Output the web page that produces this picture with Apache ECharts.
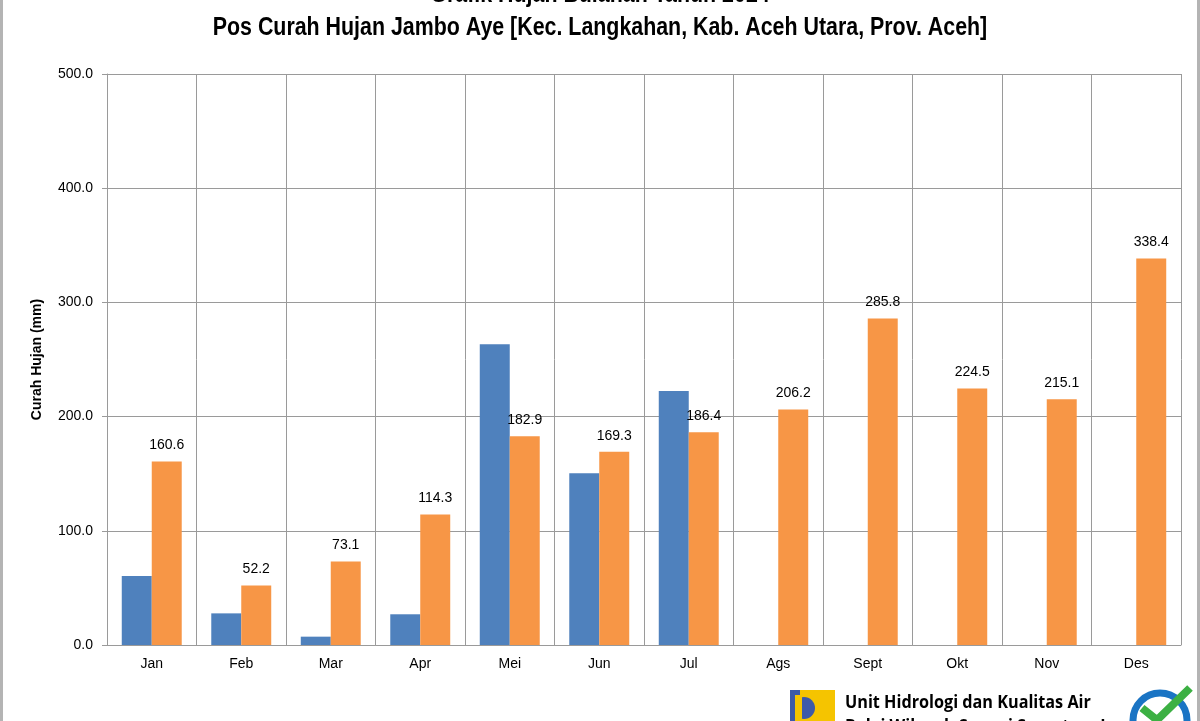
<!DOCTYPE html>
<html><head><meta charset="utf-8">
<script src="https://cdn.jsdelivr.net/npm/echarts@6/dist/echarts.min.js"></script>
<style>html,body{margin:0;padding:0;background:#fff}#c{width:1200px;height:721px}</style>
</head><body><div id="c"></div>
<script>
const categories = ['Jan','Feb','Mar','Apr','Mei','Jun','Jul','Ags','Sept','Okt','Nov','Des'];
const seriesBlue = [60.4, 27.7, 7.3, 26.9, 263.3, 150.3, 222.4, null, null, null, null, null];
const seriesOrange = [160.6, 52.2, 73.1, 114.3, 182.9, 169.3, 186.4, 206.2, 285.8, 224.5, 215.1, 338.4];
const yTicks = {min: 0, max: 500, interval: 100};
const titleLines = ['Grafik Hujan Bulanan Tahun 2024', 'Pos Curah Hujan Jambo Aye [Kec. Langkahan, Kab. Aceh Utara, Prov. Aceh]'];
const yAxisName = 'Curah Hujan (mm)';
const footerLines = ['Unit Hidrologi dan Kualitas Air', 'Balai Wilayah Sungai Sumatera I'];

const sans = '"Liberation Sans", Arial, sans-serif';
const chart = echarts.init(document.getElementById('c'));
chart.setOption({
  animation: false,
  backgroundColor: '#fff',
  grid: {left: 107, right: 19, top: 74, bottom: 76, containLabel: false},
  xAxis: {
    type: 'category', data: categories,
    axisLine: {lineStyle: {color: '#9a9a9a', width: 1}},
    axisTick: {show: false},
    splitLine: {show: true, interval: 0, lineStyle: {color: '#9a9a9a', width: 1}},
    axisLabel: {color: '#000', fontSize: 14, fontFamily: sans, margin: 12}
  },
  yAxis: {
    type: 'value', min: yTicks.min, max: yTicks.max, interval: yTicks.interval,
    name: yAxisName, nameLocation: 'middle', nameGap: 63, nameRotate: 90,
    nameTextStyle: {color: '#000', fontSize: 14, fontWeight: 'bold', fontFamily: sans},
    axisLine: {show: true, lineStyle: {color: '#9a9a9a'}},
    axisTick: {show: true, length: 5, inside: false, lineStyle: {color: '#9a9a9a'}},
    splitLine: {lineStyle: {color: '#9a9a9a', width: 1}},
    axisLabel: {color: '#000', fontSize: 14, fontFamily: sans, margin: 14,
      formatter: v => v.toFixed(1)}
  },
  series: [
    {type: 'bar', data: seriesBlue, barGap: '0%', barCategoryGap: '33%',
     itemStyle: {color: '#4f81bd'}},
    {type: 'bar', data: seriesOrange, barGap: '0%', barCategoryGap: '33%',
     itemStyle: {color: '#f79646'},
     label: {show: true, position: 'top', distance: 9, color: '#000', fontSize: 14,
       fontFamily: sans, formatter: p => p.value.toFixed(1)}}
  ],
  graphic: [
    {type: 'rect', shape: {x: 0, y: -2, width: 3, height: 730}, style: {fill: '#b4b4b4'}},
    {type: 'rect', shape: {x: 1197, y: -2, width: 3, height: 730}, style: {fill: '#b4b4b4'}},
    {type: 'text', x: 600, y: -5, scaleX: 0.855, style: {text: titleLines[0], fill: '#000', font: 'bold 25px ' + sans, textAlign: 'center', textVerticalAlign: 'middle'}},
    {type: 'text', x: 600, y: 28, scaleX: 0.855, style: {text: titleLines[1], fill: '#000', font: 'bold 25px ' + sans, textAlign: 'center', textVerticalAlign: 'middle'}},
    {type: 'rect', shape: {x: 790, y: 690, width: 45, height: 35}, style: {fill: '#f5c400'}},
    {type: 'rect', shape: {x: 790, y: 690, width: 10, height: 35}, style: {fill: '#3d5aa8'}},
    {type: 'circle', shape: {cx: 804, cy: 708, r: 11}, style: {fill: '#3d5aa8'}},
    {type: 'rect', shape: {x: 790, y: 695, width: 12, height: 26}, style: {fill: '#f5c400'}},
    {type: 'rect', shape: {x: 790, y: 695, width: 5, height: 26}, style: {fill: '#3d5aa8'}},
    {type: 'text', x: 845, y: 703, scaleX: 0.9, style: {text: footerLines[0], fill: '#000', font: 'bold 18px "Open Sans", Calibri, sans-serif', textVerticalAlign: 'middle'}},
    {type: 'text', x: 845, y: 727, scaleX: 0.9, style: {text: footerLines[1], fill: '#000', font: 'bold 18px "Open Sans", Calibri, sans-serif', textVerticalAlign: 'middle'}},
    {type: 'circle', shape: {cx: 1160, cy: 720, r: 27}, style: {fill: '#fff', stroke: '#1a74c4', lineWidth: 7}},
    {type: 'polyline', shape: {points: [[1142, 708], [1157, 720], [1190, 688]]}, style: {stroke: '#3cb043', lineWidth: 8, fill: 'none'}}
  ]
});
</script></body></html>
